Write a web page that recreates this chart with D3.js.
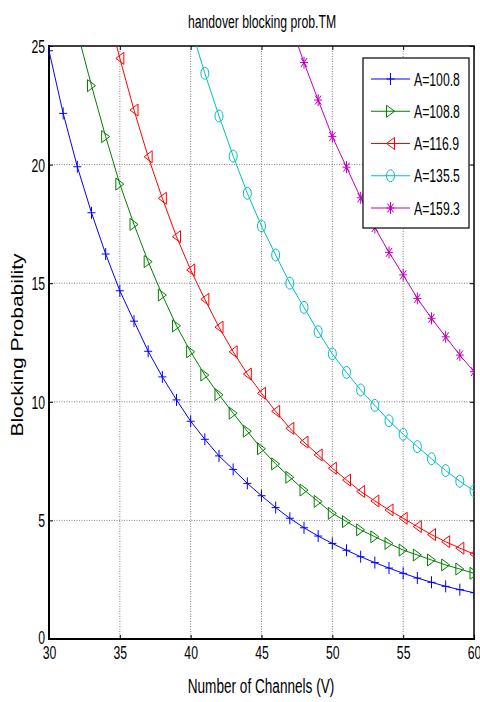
<!DOCTYPE html>
<html>
<head>
<meta charset="utf-8">
<script src="https://cdn.jsdelivr.net/npm/d3@7"></script>
<style>
  html, body { margin: 0; padding: 0; background: #fff; }
  svg { display: block; }
  text { font-family: "Liberation Sans", Arial, sans-serif; fill: #000; }
</style>
</head>
<body>
<svg id="chart" width="480" height="702"></svg>
<script>
// ---- data ----
const channels = d3.range(30, 61);
const seriesNames = ["A=100.8", "A=108.8", "A=116.9", "A=135.5", "A=159.3"];
const seriesColors = ["#0000ff", "#008000", "#ff0000", "#00bfbf", "#bf00bf"];
const seriesMarkers = ["plus", "triRight", "triLeft", "circle", "star"];

const a1008 = [24.8, 22.16, 19.91, 17.97, 16.23, 14.68, 13.40, 12.13, 11.05, 10.08, 9.18,
  8.42, 7.72, 7.15, 6.56, 6.04, 5.54, 5.09, 4.69, 4.34, 4.03,
  3.74, 3.47, 3.22, 2.99, 2.77, 2.57, 2.39, 2.22, 2.08, 1.95];
const a1088 = [null, null, 25.6, 23.33, 21.18, 19.18, 17.48, 15.91, 14.5, 13.2, 12.11,
  11.13, 10.3, 9.52, 8.76, 8.02, 7.38, 6.82, 6.28, 5.8, 5.30,
  4.95, 4.6, 4.31, 4.03, 3.75, 3.54, 3.33, 3.12, 2.95, 2.77];
const a1169 = [null, null, null, null, 26.8, 24.48, 22.3, 20.33, 18.58, 16.96, 15.56,
  14.32, 13.15, 12.11, 11.17, 10.36, 9.6, 8.88, 8.3, 7.76, 7.2,
  6.7, 6.22, 5.82, 5.44, 5.09, 4.74, 4.4, 4.1, 3.83, 3.58];
const a1355 = [null, null, null, null, null, null, null, null, null, null, 25.8,
  23.85, 22.05, 20.36, 18.79, 17.41, 16.19, 15.0, 13.98, 12.96, 12.02,
  11.24, 10.5, 9.85, 9.2, 8.63, 8.11, 7.6, 7.1, 6.65, 6.25];
const a1593 = [null, null, null, null, null, null, null, null, null, null, null,
  null, null, null, null, null, null, 26.0, 24.3, 22.72, 21.18,
  19.89, 18.6, 17.35, 16.3, 15.35, 14.36, 13.52, 12.74, 11.97, 11.27];
const seriesValues = [a1008, a1088, a1169, a1355, a1593];

const xTicks = [30, 35, 40, 45, 50, 55, 60];
const yTicks = [0, 5, 10, 15, 20, 25];
const titleText = "handover blocking prob.TM";
const xLabelText = "Number of Channels (V)";
const yLabelText = "Blocking Probability";

// ---- layout ----
const L = 49, R = 474, T = 46, B = 639;
const SX = 0.68; // horizontal squeeze of text glyphs
const svg = d3.select("#chart");
svg.append("rect").attr("width", 480).attr("height", 702).attr("fill", "#fff");

const x = d3.scaleLinear().domain([30, 60]).range([L, R]);
const y = d3.scaleLinear().domain([0, 25]).range([B, T]);

function txt(parent, px, py, str, size, anchor, sx, rot) {
  const t = parent.append("text")
    .attr("transform", `translate(${px},${py}) scale(${sx},1)` + (rot ? ` rotate(${rot})` : ""))
    .attr("text-anchor", anchor)
    .style("font-size", size + "px")
    .text(str);
  return t;
}

// clip
svg.append("defs").append("clipPath").attr("id", "clip")
  .append("rect").attr("x", L).attr("y", T).attr("width", R - L).attr("height", B - T);

// grid
const grid = svg.append("g");
grid.selectAll("line.gx").data(xTicks.filter(d => d > 30 && d < 60)).join("line")
  .attr("x1", d => x(d)).attr("x2", d => x(d)).attr("y1", T).attr("y2", B)
  .attr("stroke", "#808080").attr("stroke-width", 1).attr("stroke-dasharray", "1,1.5");
grid.selectAll("line.gy").data(yTicks.filter(d => d > 0 && d < 25)).join("line")
  .attr("x1", L).attr("x2", R).attr("y1", d => y(d)).attr("y2", d => y(d))
  .attr("stroke", "#808080").attr("stroke-width", 1).attr("stroke-dasharray", "1,1.5");

// axes (inward ticks)
const axB = svg.append("g").attr("transform", `translate(0,${B})`)
  .call(d3.axisBottom(x).tickValues(xTicks).tickSizeInner(-4).tickSizeOuter(0).tickPadding(6).tickFormat(d3.format("d")));
const axT = svg.append("g").attr("transform", `translate(0,${T})`)
  .call(d3.axisTop(x).tickValues(xTicks).tickSizeInner(-4).tickSizeOuter(0).tickFormat(""));
const axL = svg.append("g").attr("transform", `translate(${L},0)`)
  .call(d3.axisLeft(y).tickValues(yTicks).tickSizeInner(-4).tickSizeOuter(0).tickFormat(d3.format("d")));
const axR = svg.append("g").attr("transform", `translate(${R},0)`)
  .call(d3.axisRight(y).tickValues(yTicks).tickSizeInner(-4).tickSizeOuter(0).tickFormat(""));
[axB, axT, axL, axR].forEach(a => {
  a.select(".domain").remove();
  a.selectAll(".tick line").attr("stroke", "#000").attr("stroke-width", 1);
});
axB.selectAll(".tick text")
  .attr("y", 0).attr("dy", 0)
  .attr("transform", `translate(0,19.5) scale(${SX},1)`)
  .style("font-size", "18px").style("font-family", "'Liberation Sans', Arial, sans-serif");
axL.selectAll(".tick text")
  .attr("x", 0).attr("dy", 0)
  .attr("transform", d => `translate(-4,${d === 0 ? 4.5 : 6.5}) scale(${SX},1)`)
  .style("font-size", "18px").style("font-family", "'Liberation Sans', Arial, sans-serif");

// box
svg.append("rect").attr("x", L).attr("y", T).attr("width", R - L).attr("height", B - T)
  .attr("fill", "none").attr("stroke", "#000").attr("stroke-width", 1.5);
svg.append("line").attr("x1", L - 1).attr("x2", R + 1).attr("y1", B).attr("y2", B)
  .attr("stroke", "#000").attr("stroke-width", 2.2);
svg.append("line").attr("x1", L).attr("x2", L).attr("y1", T - 1).attr("y2", B + 1)
  .attr("stroke", "#000").attr("stroke-width", 2);

// markers
const MW = 4, MH = 6;
const markerPath = {
  plus: `M${-MW},0H${MW}M0,${-MH}V${MH}`,
  triRight: `M${-MW},${-MH}L${MW},0L${-MW},${MH}Z`,
  triLeft: `M${MW},${-MH}L${-MW},0L${MW},${MH}Z`,
  star: `M${-MW},0H${MW}M0,${-MH}V${MH}M${-MW * 0.75},${-MH * 0.75}L${MW * 0.75},${MH * 0.75}M${-MW * 0.75},${MH * 0.75}L${MW * 0.75},${-MH * 0.75}`
};
function drawMarker(g, kind, color) {
  if (kind === "circle") {
    g.append("ellipse").attr("rx", MW).attr("ry", MH)
      .attr("fill", "none").attr("stroke", color).attr("stroke-width", 1);
  } else {
    g.append("path").attr("d", markerPath[kind])
      .attr("fill", "none").attr("stroke", color).attr("stroke-width", 1);
  }
}

// series
const plot = svg.append("g").attr("clip-path", "url(#clip)");
const line = d3.line().defined(d => d.v != null).x(d => x(d.c)).y(d => y(d.v));
seriesValues.forEach((vals, i) => {
  const pts = channels.map((c, j) => ({ c, v: vals[j] }));
  plot.append("path").datum(pts).attr("d", line)
    .attr("fill", "none").attr("stroke", seriesColors[i]).attr("stroke-width", 1);
  const mg = plot.append("g");
  pts.filter(d => d.v != null).forEach(d => {
    const g = mg.append("g").attr("transform", `translate(${x(d.c)},${y(d.v)})`);
    drawMarker(g, seriesMarkers[i], seriesColors[i]);
  });
});

// legend
const lg = svg.append("g");
lg.append("rect").attr("x", 363).attr("y", 58).attr("width", 106).attr("height", 170)
  .attr("fill", "#fff").attr("stroke", "#000").attr("stroke-width", 1.2);
const rowY = d3.scalePoint().domain(seriesNames).range([79, 208]);
seriesNames.forEach((name, i) => {
  const yy = rowY(name);
  lg.append("line").attr("x1", 371).attr("x2", 410).attr("y1", yy).attr("y2", yy)
    .attr("stroke", seriesColors[i]).attr("stroke-width", 1);
  const g = lg.append("g").attr("transform", `translate(390.5,${yy})`);
  drawMarker(g, seriesMarkers[i], seriesColors[i]);
  txt(lg, 414, yy + 6.5, name, 18, "start", SX);
});

// title & labels
txt(svg, 262, 28, titleText, 18, "middle", SX);
txt(svg, 261, 693, xLabelText, 20, "middle", SX);
txt(svg, 23, 345, yLabelText, 21, "middle", 0.78, -90);
</script>
</body>
</html>
